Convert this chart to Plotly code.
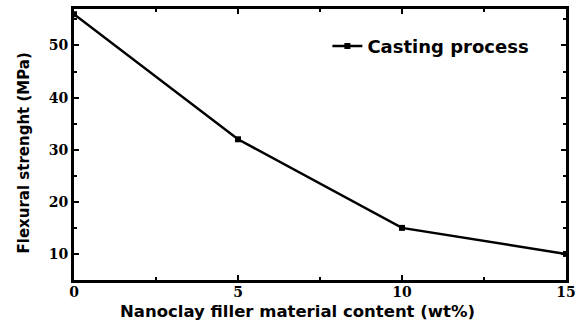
import plotly.graph_objects as go

content_wt = [0, 5, 10, 15]
flexural_mpa = [56, 32, 15, 10]
series_name = "Casting process"
x_ticks = [0, 5, 10, 15]
y_ticks = [10, 20, 30, 40, 50]
x_title = "Nanoclay filler material content (wt%)"
y_title = "Flexural strenght (MPa)"

fig = go.Figure()
fig.add_trace(go.Scatter(
    x=content_wt, y=flexural_mpa, name=series_name,
    mode="lines+markers",
    line=dict(color="black", width=2.5),
    marker=dict(symbol="square", size=6, color="black"),
    cliponaxis=False,
))

tickfont = dict(family="DejaVu Serif", size=14, color="black", weight="bold")

fig.update_layout(
    width=582, height=322,
    margin=dict(l=74, r=16, t=6, b=42),
    plot_bgcolor="white", paper_bgcolor="white",
    showlegend=True,
    legend=dict(x=0.515, y=0.862, xanchor="left", yanchor="middle",
                bgcolor="rgba(0,0,0,0)",
                font=dict(family="DejaVu Sans", size=18, color="black", weight="bold")),
    xaxis=dict(
        range=[0, 15], tickvals=x_ticks, ticks="inside", ticklen=5, tickwidth=2,
        tickcolor="black", showline=True, linewidth=3, linecolor="black",
        mirror="allticks", showgrid=False, zeroline=False, tickfont=tickfont,
        ticklabelstandoff=-3,
        minor=dict(dtick=2.5, ticks="inside", ticklen=3, tickwidth=2, tickcolor="black", showgrid=False),
    ),
    yaxis=dict(
        range=[5, 57], tickvals=y_ticks, ticks="inside", ticklen=5, tickwidth=2,
        tickcolor="black", showline=True, linewidth=3, linecolor="black",
        mirror="allticks", showgrid=False, zeroline=False, tickfont=tickfont,
        minor=dict(dtick=5, ticks="inside", ticklen=3, tickwidth=2, tickcolor="black", showgrid=False),
    ),
    annotations=[
        dict(text=x_title, xref="paper", yref="paper", x=0.455, y=-0.1145,
             xanchor="center", yanchor="middle", showarrow=False,
             font=dict(family="DejaVu Sans", size=16.5, color="black", weight="bold")),
        dict(text=y_title, xref="paper", yref="paper", x=-0.1016, y=0.467,
             xanchor="center", yanchor="middle", showarrow=False, textangle=-90,
             font=dict(family="DejaVu Sans", size=15, color="black", weight="bold")),
    ],
)

fig.write_html("out.html")
